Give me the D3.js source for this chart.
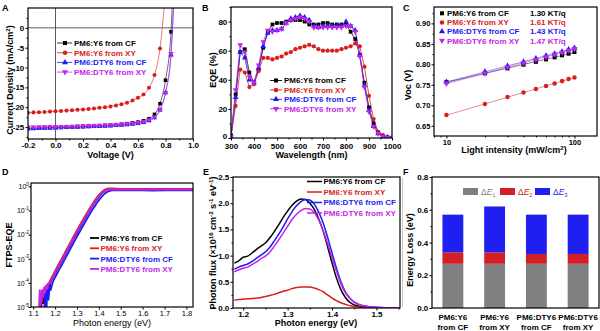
<!DOCTYPE html>
<html><head><meta charset="utf-8">
<script src="https://cdn.jsdelivr.net/npm/d3@7/dist/d3.min.js"></script>
<style>
html,body{margin:0;padding:0;background:#fff}
svg{display:block}
</style></head>
<body>
<svg id="fig" width="600" height="331"></svg>
<script>
const FONT = "'Liberation Sans', Arial, Helvetica, sans-serif";

// ---- shared series info ----
const seriesNames = ["PM6:Y6 from CF", "PM6:Y6 from XY", "PM6:DTY6 from CF", "PM6:DTY6 from XY"];
const seriesColors = ["#000000", "#d81e1e", "#1c1cf5", "#c623e8"];
const seriesMarkers = ["square", "circle", "up", "down"];

// ---- A: J-V curves ----
const jvVoltage = [-0.2,-0.16,-0.12,-0.08,-0.04,0,0.04,0.08,0.12,0.16,0.2,0.24,0.28,0.32,0.36,0.4,0.44,0.48,0.52,0.56,0.6,0.64,0.68,0.72,0.76,0.8,0.84,0.88];
const jvY6CF   = [-25.3,-25.25,-25.2,-25.15,-25.1,-25.1,-25.05,-25.0,-24.95,-24.9,-24.85,-24.8,-24.75,-24.7,-24.6,-24.55,-24.45,-24.3,-24.15,-23.95,-23.75,-23.4,-22.9,-21.8,-19.1,-13.2,-1.0,40];
const jvY6XY   = [-21.4,-21.3,-21.25,-21.2,-21.1,-21.0,-20.95,-20.85,-20.75,-20.65,-20.55,-20.45,-20.3,-20.15,-20.0,-19.8,-19.55,-19.25,-18.85,-18.3,-17.6,-16.8,-15.1,-11.9,-5.2,9,null,null];
const jvDTY6CF = [-25.45,-25.4,-25.35,-25.3,-25.25,-25.2,-25.15,-25.1,-25.05,-25.0,-24.95,-24.9,-24.85,-24.8,-24.75,-24.7,-24.6,-24.5,-24.4,-24.25,-24.05,-23.8,-23.4,-22.6,-20.7,-16.3,-6.8,25];
const jvDTY6XY = [-25.0,-25.0,-24.95,-24.95,-24.9,-24.9,-24.85,-24.85,-24.8,-24.75,-24.7,-24.65,-24.6,-24.55,-24.5,-24.45,-24.35,-24.25,-24.15,-24.0,-23.85,-23.6,-23.2,-22.5,-20.6,-16.3,-6.5,25];
const jvXTicks = [-0.2,0,0.2,0.4,0.6,0.8,1.0];
const jvYTicks = [-25,-20,-15,-10,-5,0];

// ---- B: EQE spectra ----
const wavelength = [300,320,340,360,380,400,420,440,460,480,500,520,540,560,580,600,620,640,660,680,700,720,740,760,780,800,820,840,860,880,900,920,940,960,980,1000];
const eqeY6CF   = [2,30,59,61,45,38,47,62,73,78,79,79,80,81,81,81,80,78,78,78,79,79,78,78,78,78,73,68,57,38,21,10,4,1.5,0.5,0];
const eqeY6XY   = [1,22,47,45,35,37,46,55,55,54,55,56,58,59,61,62,63,64,63,61,60,60,60,60,61,62,63,65,63,49,29,13,4,2,0.5,0];
const eqeDTY6CF = [1,28,59,55,40,38,48,63,72,74,74,75,79,82,83,84,83,81,77,76,77,77,77,77,77,80,77,74,57,36,19,8,3,1,0.5,0];
const eqeDTY6XY = [1,33,64,59,42,38,50,66,74,73,74,75,79,81,82,83,82,80,76,76,76,76,76,76,76,77,77,73,56,35,18,8,3,1,0.5,0];
const eqeXTicks = [300,400,500,600,700,800,900,1000];
const eqeYTicks = [0,20,40,60,80];

// ---- C: Voc vs light intensity ----
const intensity = [10,20,30,40,50,60,70,80,90,100];
const vocY6CF   = [0.757,0.778,0.790,0.799,0.806,0.812,0.817,0.822,0.826,0.830];
const vocY6XY   = [0.676,0.703,0.720,0.731,0.740,0.747,0.753,0.759,0.764,0.768];
const vocDTY6CF = [0.757,0.782,0.796,0.806,0.814,0.821,0.826,0.831,0.836,0.840];
const vocDTY6XY = [0.753,0.778,0.793,0.803,0.811,0.818,0.824,0.829,0.834,0.838];
const vocSlopes = ["1.30 KT/q", "1.61 KT/q", "1.43 KT/q", "1.47 KT/q"];
const vocYTicks = [0.65,0.70,0.75,0.80,0.85,0.90];

// ---- D: FTPS-EQE (log10 values) ----
const energyD = [1.12,1.125,1.13,1.135,1.14,1.145,1.15,1.155,1.16,1.165,1.17,1.175,1.18,1.19,1.20,1.21,1.22,1.23,1.24,1.25,1.26,1.27,1.28,1.29,1.30,1.31,1.32,1.33,1.34,1.35,1.36,1.37,1.38,1.39,1.40,1.41,1.42,1.43,1.44,1.45,1.46,1.48,1.50,1.55,1.60,1.65,1.70,1.75,1.80,1.85];
const ftpsY6CF   = [null,null,null,-5.3,-4.5,-4.85,-4.35,-4.6,-4.25,-4.4,-4.1,-4.2,-3.95,-3.78,-3.6,-3.42,-3.26,-3.1,-2.93,-2.76,-2.59,-2.42,-2.25,-2.08,-1.92,-1.76,-1.6,-1.44,-1.28,-1.12,-0.97,-0.82,-0.68,-0.55,-0.43,-0.32,-0.24,-0.17,-0.13,-0.11,-0.1,-0.1,-0.11,-0.11,-0.12,-0.12,-0.11,-0.12,-0.12,-0.12];
const ftpsY6XY   = [null,null,-5.3,-4.4,-4.8,-4.3,-4.5,-4.15,-4.3,-4.05,-4.1,-3.95,-3.85,-3.68,-3.5,-3.33,-3.16,-3.0,-2.83,-2.66,-2.49,-2.32,-2.15,-1.98,-1.82,-1.66,-1.5,-1.34,-1.18,-1.03,-0.88,-0.74,-0.6,-0.47,-0.36,-0.26,-0.18,-0.12,-0.09,-0.08,-0.08,-0.09,-0.1,-0.1,-0.1,-0.1,-0.1,-0.1,-0.1,-0.1];
const ftpsDTY6CF = [null,null,null,null,null,null,-5.3,-4.3,-5.3,-4.2,-4.7,-4.15,-4.3,-3.95,-3.78,-3.6,-3.43,-3.27,-3.1,-2.93,-2.76,-2.59,-2.42,-2.25,-2.08,-1.92,-1.76,-1.6,-1.44,-1.28,-1.13,-0.98,-0.84,-0.7,-0.58,-0.46,-0.36,-0.28,-0.22,-0.19,-0.17,-0.16,-0.16,-0.16,-0.16,-0.17,-0.16,-0.16,-0.16,-0.16];
const ftpsDTY6XY = [null,-5.3,-4.3,-4.9,-4.3,-4.6,-4.2,-4.4,-4.1,-4.25,-4.0,-4.05,-3.92,-3.75,-3.57,-3.4,-3.23,-3.07,-2.9,-2.73,-2.56,-2.39,-2.22,-2.05,-1.89,-1.73,-1.57,-1.41,-1.25,-1.1,-0.95,-0.8,-0.66,-0.53,-0.41,-0.31,-0.23,-0.17,-0.14,-0.13,-0.12,-0.13,-0.13,-0.13,-0.13,-0.13,-0.13,-0.13,-0.13,-0.13];
const ftpsXTicks = [1.1,1.2,1.3,1.4,1.5,1.6,1.7,1.8];
const ftpsExponents = [0,-1,-2,-3,-4,-5];

// ---- E: EL photon flux ----
const energyE = [1.18,1.19,1.20,1.21,1.22,1.23,1.24,1.25,1.26,1.27,1.28,1.29,1.30,1.31,1.32,1.33,1.34,1.35,1.36,1.37,1.38,1.39,1.40,1.41,1.42,1.43,1.44,1.45,1.46,1.48,1.50,1.52,1.55];
const fluxY6CF   = [0.86,0.9,0.97,0.99,1.05,1.12,1.18,1.24,1.34,1.46,1.59,1.73,1.85,1.96,2.04,2.08,2.07,2.0,1.88,1.7,1.47,1.17,0.86,0.57,0.35,0.2,0.11,0.06,0.035,0.015,0.006,0.003,0.001];
const fluxY6XY   = [0.15,0.16,0.17,0.175,0.18,0.19,0.2,0.22,0.24,0.26,0.29,0.32,0.34,0.37,0.39,0.4,0.4,0.4,0.38,0.35,0.31,0.25,0.19,0.14,0.1,0.07,0.045,0.03,0.02,0.01,0.004,0.002,0.001];
const fluxDTY6CF = [0.74,0.78,0.81,0.84,0.89,0.95,1.01,1.07,1.16,1.28,1.41,1.55,1.7,1.84,1.95,2.03,2.07,2.06,1.98,1.83,1.62,1.35,1.05,0.76,0.5,0.31,0.19,0.11,0.07,0.03,0.012,0.005,0.002];
const fluxDTY6XY = [0.69,0.73,0.76,0.78,0.83,0.88,0.94,0.99,1.07,1.18,1.3,1.43,1.56,1.69,1.79,1.86,1.9,1.89,1.82,1.68,1.48,1.23,0.96,0.7,0.46,0.29,0.18,0.11,0.07,0.03,0.012,0.005,0.002];
const fluxXTicks = [1.2,1.3,1.4,1.5];
const fluxYTicks = [0,0.5,1.0,1.5,2.0,2.5];

// ---- F: energy loss breakdown ----
const lossLine1 = ["PM6:Y6", "PM6:Y6", "PM6:DTY6", "PM6:DTY6"];
const lossLine2 = ["from CF", "from XY", "from CF", "from XY"];
const lossE1 = [0.27,0.27,0.27,0.27];
const lossE2 = [0.07,0.07,0.06,0.06];
const lossE3 = [0.23,0.28,0.24,0.24];
const lossColors = ["#808080", "#d21f26", "#1f1ff2"];
const lossYTicks = [0,0.2,0.4,0.6,0.8];

// ================= helpers =================
const svg = d3.select("#fig").attr("font-family", FONT);
const defs = svg.append("defs");

function clip(id, x0, y0, x1, y1) {
  defs.append("clipPath").attr("id", id).append("rect")
    .attr("x", x0).attr("y", y0).attr("width", x1 - x0).attr("height", y1 - y0);
  return `url(#${id})`;
}
function frame(g, x0, y0, x1, y1) {
  g.append("rect").attr("x", x0).attr("y", y0).attr("width", x1 - x0).attr("height", y1 - y0)
    .attr("fill", "none").attr("stroke", "#000").attr("stroke-width", 1.2);
}
function styleAxis(a, fs, fw) {
  a.select(".domain").remove();
  a.selectAll(".tick line").attr("stroke", "#000").attr("stroke-width", 1);
  a.selectAll(".tick text").attr("font-size", fs).attr("font-weight", fw)
    .attr("font-family", FONT).attr("fill", "#000");
}
function axis(g, fn, scale, tr, majors, fmt, minors, fs = 8, fw = "bold", pad = 1.2) {
  const a = g.append("g").attr("transform", tr)
    .call(fn(scale).tickValues(majors).tickFormat(fmt).tickSize(2.5).tickPadding(pad));
  styleAxis(a, fs, fw);
  if (minors && minors.length) {
    const m = g.append("g").attr("transform", tr)
      .call(fn(scale).tickValues(minors).tickFormat(() => "").tickSize(1.5));
    styleAxis(m, fs, fw);
  }
  return a;
}
// text made of plain / superscript / subscript pieces
function rich(t, parts) {
  let shift = 0;
  parts.forEach(p => {
    const [str, kind] = Array.isArray(p) ? p : [p, null];
    const target = kind === "sup" ? -3.2 : kind === "sub" ? 2 : 0;
    const ts = t.append("tspan").text(str).attr("dy", target - shift);
    if (kind) ts.attr("font-size", "0.68em");
    shift = target;
  });
  return t;
}
function label(g, x, y, parts, opt = {}) {
  const t = g.append("text").attr("x", x).attr("y", y)
    .attr("font-size", opt.size || 9).attr("font-weight", opt.weight || "bold")
    .attr("fill", opt.color || "#000").attr("text-anchor", opt.anchor || "middle");
  if (opt.italic) t.attr("font-style", "italic");
  return rich(t, typeof parts === "string" ? [parts] : parts);
}
function vlabel(g, cx, cy, parts, opt = {}) {
  const size = opt.size || 9;
  const t = g.append("text")
    .attr("transform", `translate(${cx + size * 0.35},${cy}) rotate(-90)`)
    .attr("font-size", size).attr("font-weight", opt.weight || "bold")
    .attr("fill", "#000").attr("text-anchor", "middle");
  return rich(t, typeof parts === "string" ? [parts] : parts);
}
function markerPath(kind, size) {
  if (kind === "square") return d3.symbol(d3.symbolSquare, size)();
  if (kind === "circle") return d3.symbol(d3.symbolCircle, size)();
  return d3.symbol(d3.symbolTriangle, size)();
}
function markers(g, pts, kind, color, size) {
  g.append("g").selectAll("path").data(pts).join("path")
    .attr("d", markerPath(kind, size))
    .attr("transform", d => `translate(${d[0]},${d[1]})` + (kind === "down" ? " rotate(180)" : ""))
    .attr("fill", color);
}
function panelLetter(x, y, s) {
  svg.append("text").attr("x", x).attr("y", y).attr("font-size", 9).attr("font-weight", "bold").text(s);
}
const fix = n => d => d.toFixed(n);

// ================= A: J-V =================
{
  const g = svg.append("g");
  const x = d3.scaleLinear().domain([-0.2, 1.0]).range([28, 193]);
  const y = d3.scaleLinear().domain([-28, 5]).range([139, 8]);
  const p = g.append("g").attr("clip-path", clip("clipA", 28, 8, 193, 139));
  p.append("line").attr("x1", 28).attr("x2", 193).attr("y1", y(0)).attr("y2", y(0)).attr("stroke", "#333").attr("stroke-width", 0.8);
  p.append("line").attr("x1", x(0)).attr("x2", x(0)).attr("y1", 8).attr("y2", 139).attr("stroke", "#333").attr("stroke-width", 0.8);
  const sets = [jvY6CF, jvY6XY, jvDTY6CF, jvDTY6XY];
  const line = d3.line().defined(d => d[1] != null).x(d => x(d[0])).y(d => y(d[1])).curve(d3.curveMonotoneX);
  sets.forEach((vals, i) => {
    const data = jvVoltage.map((v, k) => [v, vals[k]]);
    p.append("path").attr("d", line(data)).attr("fill", "none")
      .attr("stroke", seriesColors[i]).attr("stroke-width", 0.8).attr("stroke-opacity", 0.75);
    markers(p, data.filter(d => d[1] != null).map(d => [x(d[0]), y(d[1])]), seriesMarkers[i], seriesColors[i], 13);
  });
  frame(g, 28, 8, 193, 139);
  axis(g, d3.axisBottom, x, "translate(0,139)", jvXTicks, fix(1), [-0.1, 0.1, 0.3, 0.5, 0.7, 0.9]);
  axis(g, d3.axisLeft, y, "translate(28,0)", jvYTicks, d => String(d), [-27.5, -22.5, -17.5, -12.5, -7.5, -2.5, 2.5]);
  label(g, 110.5, 158, "Voltage (V)");
  vlabel(g, 10, 80, ["Current Density (mA/cm", ["2", "sup"], ")"]);
  seriesNames.forEach((s, i) => {
    const yy = 43 + i * 9.7;
    g.append("line").attr("x1", 57).attr("x2", 72).attr("y1", yy).attr("y2", yy)
      .attr("stroke", seriesColors[i]).attr("stroke-width", 0.8);
    markers(g, [[65, yy]], seriesMarkers[i], seriesColors[i], 16);
    label(g, 74, yy + 2.9, s, { size: 8, anchor: "start", color: seriesColors[i] });
  });
}

// ================= B: EQE =================
{
  const g = svg.append("g");
  const x = d3.scaleLinear().domain([300, 1000]).range([231, 392]);
  const y = d3.scaleLinear().domain([0, 90]).range([138, 7]);
  const p = g.append("g").attr("clip-path", clip("clipB", 231, 7, 392, 138));
  const sets = [eqeY6CF, eqeY6XY, eqeDTY6CF, eqeDTY6XY];
  const line = d3.line().x(d => x(d[0])).y(d => y(d[1]));
  sets.forEach((vals, i) => {
    const data = wavelength.map((w, k) => [w, vals[k]]);
    p.append("path").attr("d", line(data)).attr("fill", "none")
      .attr("stroke", seriesColors[i]).attr("stroke-width", 0.9).attr("stroke-opacity", 0.85);
  });
  sets.forEach((vals, i) => {
    markers(p, wavelength.map((w, k) => [x(w), y(vals[k])]), seriesMarkers[i], seriesColors[i], 14);
  });
  frame(g, 231, 7, 392, 138);
  axis(g, d3.axisBottom, x, "translate(0,138)", eqeXTicks, d => String(d), [350, 450, 550, 650, 750, 850, 950], 8, "bold", 2.6);
  const ya = axis(g, d3.axisLeft, y, "translate(231,0)", eqeYTicks, d => String(d), [10, 30, 50, 70, 90]);
  ya.selectAll(".tick text").filter(d => d === 0).attr("dy", "0.1em");
  label(g, 311.5, 158, "Wavelength (nm)");
  vlabel(g, 213, 70, "EQE (%)");
  seriesNames.forEach((s, i) => {
    const yy = 80.5 + i * 9.4;
    g.append("line").attr("x1", 270).attr("x2", 282).attr("y1", yy).attr("y2", yy)
      .attr("stroke", seriesColors[i]).attr("stroke-width", 0.9);
    markers(g, [[276, yy]], seriesMarkers[i], seriesColors[i], 16);
    label(g, 284, yy + 2.9, s, { size: 8, anchor: "start", color: seriesColors[i] });
  });
}

// ================= C: Voc vs light intensity =================
{
  const g = svg.append("g");
  const x = d3.scaleLog().domain([8, 150]).range([434, 597]);
  const y = d3.scaleLinear().domain([0.625, 0.94]).range([136, 7]);
  const p = g.append("g").attr("clip-path", clip("clipC", 434, 7, 597, 136));
  const sets = [vocY6CF, vocY6XY, vocDTY6CF, vocDTY6XY];
  sets.forEach((vals, i) => {
    // least-squares fit of Voc against log10(intensity)
    const lx = intensity.map(v => Math.log10(v));
    const mx = d3.mean(lx), my = d3.mean(vals);
    const b = d3.sum(lx.map((v, k) => (v - mx) * (vals[k] - my))) / d3.sum(lx.map(v => (v - mx) ** 2));
    const a = my - b * mx;
    const ends = [intensity[0], intensity[intensity.length - 1]];
    p.append("line")
      .attr("x1", x(ends[0])).attr("y1", y(a + b * Math.log10(ends[0])))
      .attr("x2", x(ends[1])).attr("y2", y(a + b * Math.log10(ends[1])))
      .attr("stroke", seriesColors[i]).attr("stroke-width", 1).attr("stroke-opacity", 0.5);
  });
  sets.forEach((vals, i) => {
    markers(p, intensity.map((v, k) => [x(v), y(vals[k])]), seriesMarkers[i], seriesColors[i], 16);
  });
  frame(g, 434, 7, 597, 136);
  axis(g, d3.axisBottom, x, "translate(0,136)", [10, 100], d => String(d), [8, 9, 20, 30, 40, 50, 60, 70, 80, 90], 7.5);
  axis(g, d3.axisLeft, y, "translate(434,0)", vocYTicks, fix(2), [0.675, 0.725, 0.775, 0.825, 0.875, 0.925], 7.5);
  label(g, 514, 153, ["Light intensity (mW/cm", ["2", "sup"], ")"]);
  vlabel(g, 408, 85, "Voc (V)");
  seriesNames.forEach((s, i) => {
    const yy = 13.3 + i * 9.1;
    markers(g, [[442, yy]], seriesMarkers[i], seriesColors[i], 16);
    label(g, 447, yy + 2.9, s, { size: 8, anchor: "start", color: seriesColors[i] });
    label(g, 530, yy + 2.9, vocSlopes[i], { size: 8, anchor: "start", color: seriesColors[i] });
  });
}

// ================= D: FTPS-EQE =================
{
  const g = svg.append("g");
  const x = d3.scaleLinear().domain([1.09, 1.83]).range([31, 193]);
  const y = d3.scaleLog().domain([1e-5, 1.38]).range([307, 183]);
  const p = g.append("g").attr("clip-path", clip("clipD", 31, 183, 193, 307));
  const sets = [ftpsY6CF, ftpsY6XY, ftpsDTY6CF, ftpsDTY6XY];
  const line = d3.line().defined(d => d[1] != null).x(d => x(d[0])).y(d => y(Math.pow(10, d[1])));
  sets.forEach((vals, i) => {
    p.append("path").attr("d", line(energyD.map((e, k) => [e, vals[k]])))
      .attr("fill", "none").attr("stroke", seriesColors[i]).attr("stroke-width", 1.8)
      .attr("stroke-linejoin", "round");
  });
  frame(g, 31, 183, 193, 307);
  axis(g, d3.axisBottom, x, "translate(0,307)", ftpsXTicks, fix(1), [], 7.5, "normal");
  const ya = g.append("g").attr("transform", "translate(31,0)")
    .call(d3.axisLeft(y).tickValues(ftpsExponents.map(e => Math.pow(10, e))).tickFormat(() => "").tickSize(2.5));
  styleAxis(ya, 7, "normal");
  ftpsExponents.forEach(e => {
    label(g, 29, y(Math.pow(10, e)) + 2.8, ["10", [String(e), "sup"]], { size: 7, weight: "normal", anchor: "end" });
  });
  label(g, 112, 326, "Photon energy (eV)", { weight: "normal" });
  vlabel(g, 9, 245, "FTPS-EQE");
  seriesNames.forEach((s, i) => {
    const yy = 238 + i * 10.3;
    g.append("line").attr("x1", 90).attr("x2", 99).attr("y1", yy).attr("y2", yy)
      .attr("stroke", seriesColors[i]).attr("stroke-width", 1.8);
    label(g, 100.5, yy + 2.9, s, { size: 8, anchor: "start", color: seriesColors[i] });
  });
}

// ================= E: EL photon flux =================
{
  const g = svg.append("g");
  const x = d3.scaleLinear().domain([1.177, 1.553]).range([233, 400]);
  const y = d3.scaleLinear().domain([0, 2.5]).range([308, 177]);
  const p = g.append("g").attr("clip-path", clip("clipE", 233, 177, 400, 308));
  const sets = [fluxY6CF, fluxY6XY, fluxDTY6CF, fluxDTY6XY];
  const line = d3.line().x(d => x(d[0])).y(d => y(d[1])).curve(d3.curveMonotoneX);
  sets.forEach((vals, i) => {
    p.append("path").attr("d", line(energyE.map((e, k) => [e, vals[k]])))
      .attr("fill", "none").attr("stroke", seriesColors[i]).attr("stroke-width", 1.5);
  });
  frame(g, 233, 177, 400, 308);
  axis(g, d3.axisBottom, x, "translate(0,308)", fluxXTicks, fix(1), [1.25, 1.35, 1.45, 1.55]);
  axis(g, d3.axisLeft, y, "translate(233,0)", fluxYTicks, fix(1), [0.25, 0.75, 1.25, 1.75, 2.25]);
  label(g, 316, 326, "Photon energy (eV)");
  vlabel(g, 213, 243, ["Photon flux (\u00d710", ["16", "sup"], " cm", ["-2", "sup"], " s", ["-1", "sup"], " eV", ["-1", "sup"], ")"], { size: 9 });
  seriesNames.forEach((s, i) => {
    const yy = 181.5 + i * 10.5;
    g.append("line").attr("x1", 307).attr("x2", 322).attr("y1", yy).attr("y2", yy)
      .attr("stroke", seriesColors[i]).attr("stroke-width", 1.5);
    label(g, 323.5, yy + 2.9, s, { size: 8, anchor: "start", color: seriesColors[i] });
  });
}

// ================= F: energy loss =================
{
  const g = svg.append("g");
  g.append("line").attr("x1", 402.5).attr("x2", 402.5).attr("y1", 178).attr("y2", 307)
    .attr("stroke", "#c8c8c8").attr("stroke-width", 1);
  const idx = d3.range(lossE1.length);
  const x = d3.scaleBand().domain(idx).range([432, 599]).paddingInner(0.5).paddingOuter(0.25);
  const y = d3.scaleLinear().domain([0, 0.8]).range([308, 177]);
  const rows = idx.map(k => ({ k, e1: lossE1[k], e2: lossE2[k], e3: lossE3[k] }));
  const stack = d3.stack().keys(["e1", "e2", "e3"])(rows);
  stack.forEach((layer, j) => {
    g.append("g").selectAll("rect").data(layer).join("rect")
      .attr("x", d => x(d.data.k)).attr("width", x.bandwidth())
      .attr("y", d => y(d[1])).attr("height", d => y(d[0]) - y(d[1]))
      .attr("fill", lossColors[j]);
  });
  frame(g, 432, 177, 599, 308);
  axis(g, d3.axisLeft, y, "translate(432,0)", lossYTicks, fix(1), [0.1, 0.3, 0.5, 0.7]);
  idx.forEach(k => {
    const cx = x(k) + x.bandwidth() / 2;
    label(g, cx, 320, lossLine1[k], { size: 8 });
    label(g, cx, 330, lossLine2[k], { size: 8 });
  });
  vlabel(g, 410, 250, "Energy Loss (eV)");
  const legX = [463, 500, 535];
  legX.forEach((lx, j) => {
    g.append("rect").attr("x", lx).attr("y", 188).attr("width", 15).attr("height", 7).attr("fill", lossColors[j]);
    const t = g.append("text").attr("x", lx + 18).attr("y", 195).attr("font-size", 8.5)
      .attr("fill", lossColors[j]).attr("text-anchor", "start");
    t.append("tspan").text("\u0394");
    t.append("tspan").text("E").attr("font-style", "italic");
    t.append("tspan").text(String(j + 1)).attr("font-size", "0.68em").attr("dy", 2);
  });
}

panelLetter(2, 11, "A");
panelLetter(202, 11, "B");
panelLetter(403, 11, "C");
panelLetter(2, 175, "D");
panelLetter(203, 175, "E");
panelLetter(403, 175, "F");
</script>
</body></html>
